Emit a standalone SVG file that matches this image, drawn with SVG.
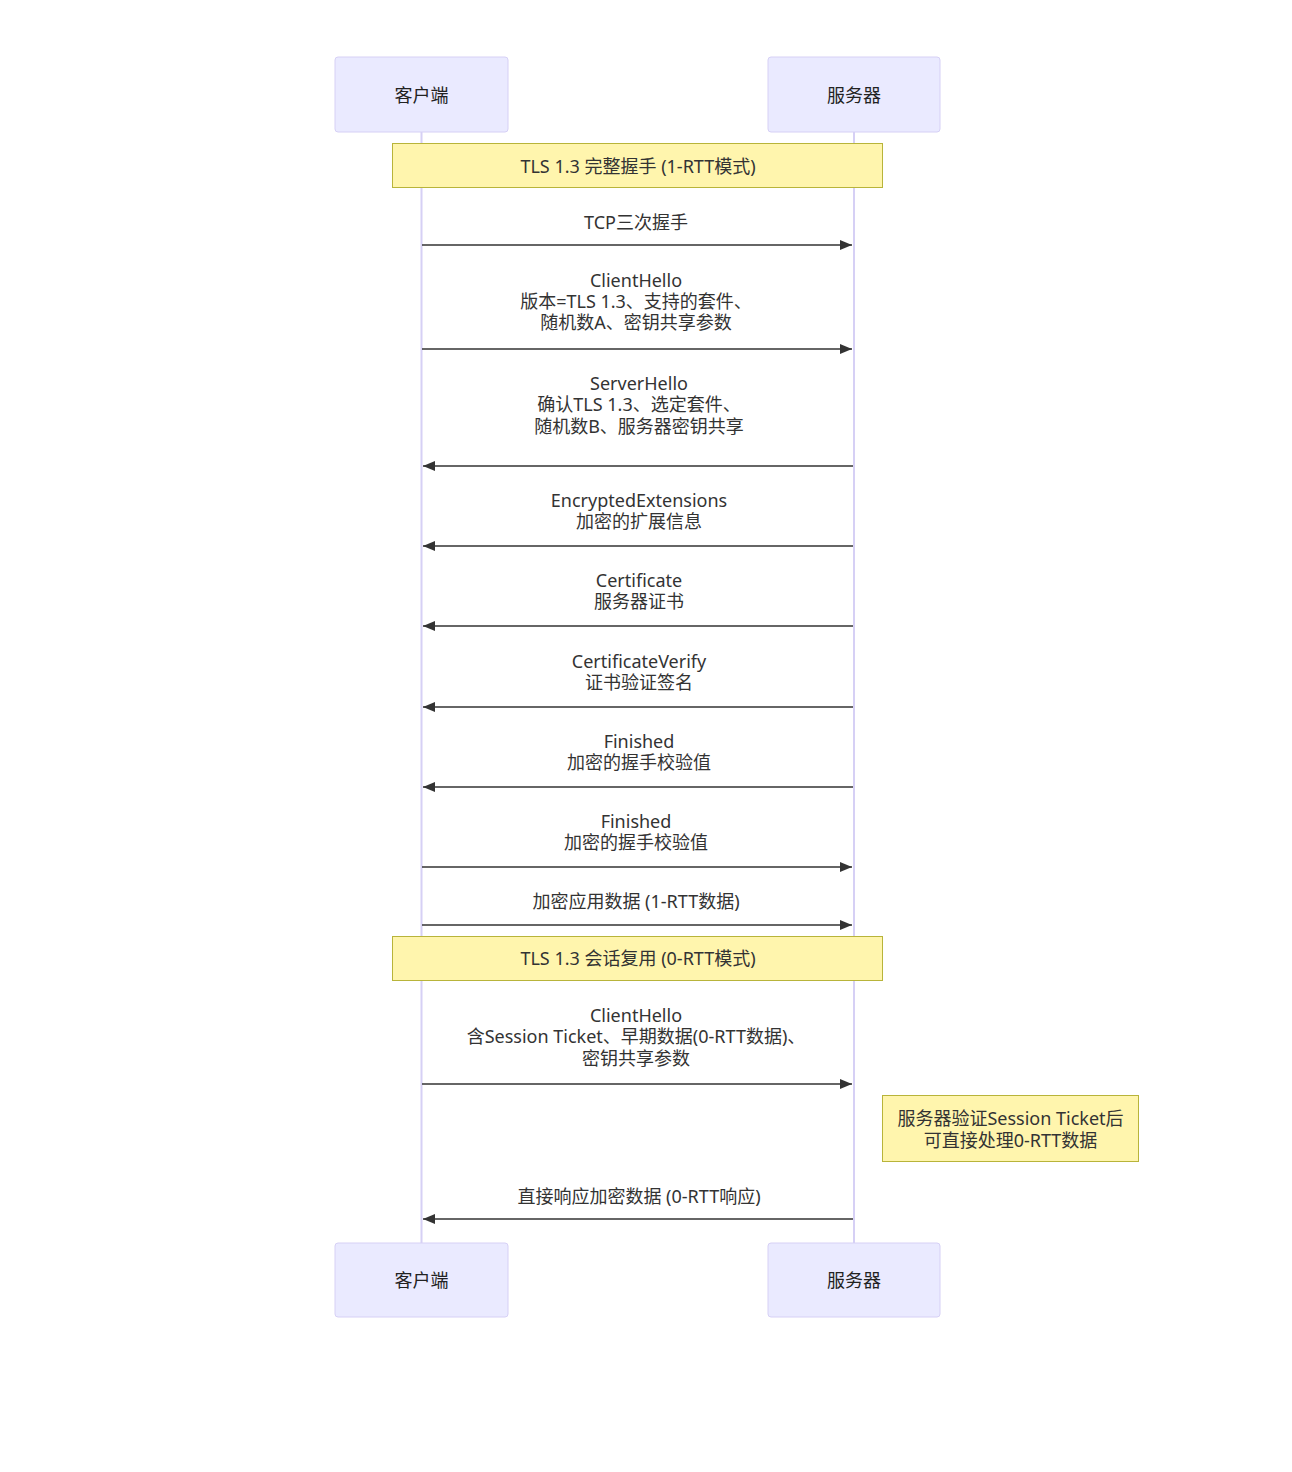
<svg xmlns="http://www.w3.org/2000/svg" width="1292" height="1472" viewBox="0 0 1292 1472">
<style>
text{font-family:"Noto Sans","Noto Sans CJK SC",sans-serif;font-size:18px;fill:#333;text-anchor:middle;dominant-baseline:central}
.actor{fill:#eaeaff;stroke:#d6d0f5;stroke-width:1}
.life{stroke:#d6d0f5;stroke-width:2}
.note{fill:#fff5ad;stroke:#b8b43a;stroke-width:1}
.msg{stroke:#333;stroke-width:1.5;fill:none;marker-end:url(#ah)}
.atext{fill:#222}
</style>
<defs>
<marker id="ah" viewBox="0 0 12 10" refX="12" refY="5" markerWidth="12" markerHeight="10" markerUnits="userSpaceOnUse" orient="auto">
<path d="M0,0 L12,5 L0,10 z" fill="#333"/>
</marker>
</defs>
<rect width="1292" height="1472" fill="#fff"/>
<g id="lifelines">
<line class="life" x1="421.5" y1="132" x2="421.5" y2="1243"/>
<line class="life" x1="854" y1="132" x2="854" y2="1243"/>
</g>
<g id="client-top"><rect class="actor" x="335" y="57" width="173" height="75" rx="3"/><text class="atext" x="421.5" y="95">客户端</text></g>
<g id="server-top"><rect class="actor" x="768" y="57" width="172" height="75" rx="3"/><text class="atext" x="854" y="95">服务器</text></g>
<g id="client-bottom"><rect class="actor" x="335" y="1243" width="173" height="74" rx="3"/><text class="atext" x="421.5" y="1280">客户端</text></g>
<g id="server-bottom"><rect class="actor" x="768" y="1243" width="172" height="74" rx="3"/><text class="atext" x="854" y="1280">服务器</text></g>
<g id="note1"><rect class="note" x="392.5" y="143.5" width="490" height="44"/><text x="638" y="166">TLS 1.3 完整握手 (1-RTT模式)</text></g>
<g id="note2"><rect class="note" x="392.5" y="936.5" width="490" height="44"/><text x="638" y="958">TLS 1.3 会话复用 (0-RTT模式)</text></g>
<g id="note3"><rect class="note" x="882.5" y="1095.5" width="256" height="66"/><text x="1010.5" y="1118">服务器验证Session Ticket后</text><text x="1010.5" y="1140">可直接处理0-RTT数据</text></g>
<g id="connectors">
<line class="msg" x1="422" y1="245" x2="852" y2="245"/>
<line class="msg" x1="422" y1="349" x2="852" y2="349"/>
<line class="msg" x1="853" y1="466" x2="423" y2="466"/>
<line class="msg" x1="853" y1="546" x2="423" y2="546"/>
<line class="msg" x1="853" y1="626" x2="423" y2="626"/>
<line class="msg" x1="853" y1="707" x2="423" y2="707"/>
<line class="msg" x1="853" y1="787" x2="423" y2="787"/>
<line class="msg" x1="422" y1="867" x2="852" y2="867"/>
<line class="msg" x1="422" y1="925" x2="852" y2="925"/>
<line class="msg" x1="422" y1="1084" x2="852" y2="1084"/>
<line class="msg" x1="853" y1="1219" x2="423" y2="1219"/>
</g>
<g id="labels">
<text x="636" y="222">TCP三次握手</text>
<text x="636" y="280">ClientHello</text>
<text x="636" y="301">版本=TLS 1.3、支持的套件、</text>
<text x="636" y="322">随机数A、密钥共享参数</text>
<text x="639" y="383">ServerHello</text>
<text x="639" y="404">确认TLS 1.3、选定套件、</text>
<text x="639" y="426">随机数B、服务器密钥共享</text>
<text x="639" y="500">EncryptedExtensions</text>
<text x="639" y="521">加密的扩展信息</text>
<text x="639" y="580">Certificate</text>
<text x="639" y="601">服务器证书</text>
<text x="639" y="661">CertificateVerify</text>
<text x="639" y="682">证书验证签名</text>
<text x="639" y="741">Finished</text>
<text x="639" y="762">加密的握手校验值</text>
<text x="636" y="821">Finished</text>
<text x="636" y="842">加密的握手校验值</text>
<text x="636" y="901">加密应用数据 (1-RTT数据)</text>
<text x="636" y="1015">ClientHello</text>
<text x="636" y="1036">含Session Ticket、早期数据(0-RTT数据)、</text>
<text x="636" y="1058">密钥共享参数</text>
<text x="639" y="1196">直接响应加密数据 (0-RTT响应)</text>
</g>
</svg>
